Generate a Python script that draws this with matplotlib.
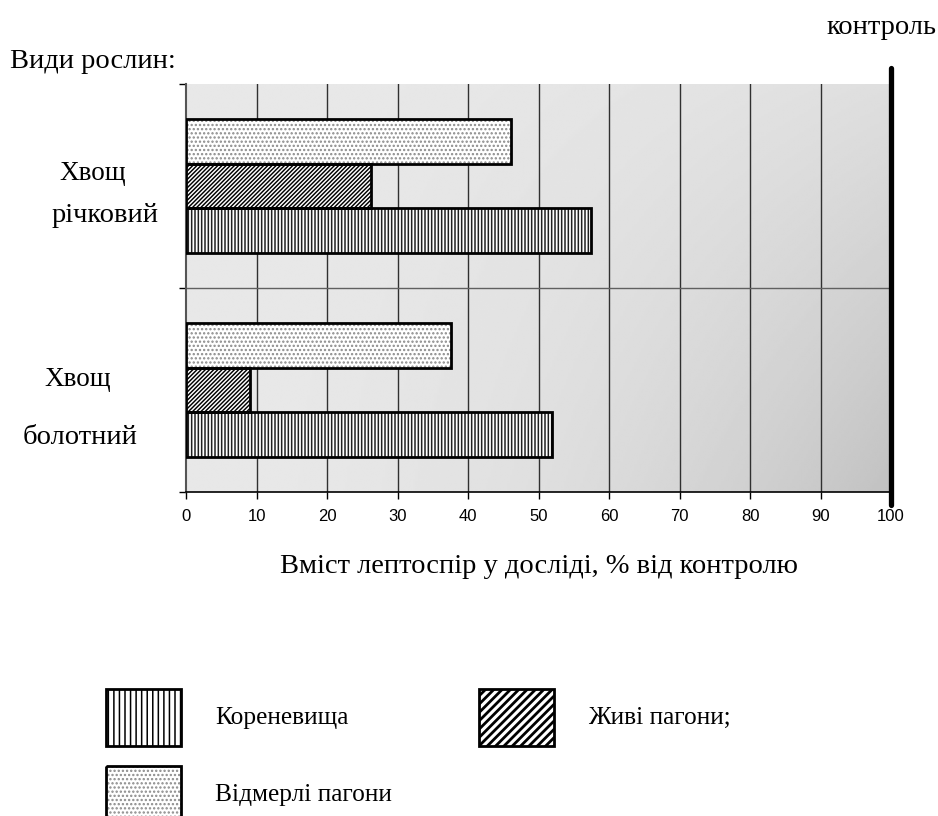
import numpy as np
import matplotlib
matplotlib.use("Agg")
import matplotlib.pyplot as plt
from matplotlib.patches import Rectangle

# вміст лептоспір, % від контролю
species = ["Хвощ\nрічковий", "Хвощ\nболотний"]
parts = ["Відмерлі пагони", "Живі пагони;", "Кореневища"]
values = {
    "Відмерлі пагони": [46.1, 37.6],
    "Живі пагони;": [26.3, 9.1],
    "Кореневища": [57.4, 51.9],
}
hatches = {"Відмерлі пагони": "....", "Живі пагони;": "////////", "Кореневища": "|||||"}
hatch_colors = {"Відмерлі пагони": "#8a8a8a", "Живі пагони;": "black", "Кореневища": "#202020"}
xticks = list(range(0, 101, 10))
control = 100

serif = "Liberation Serif"
sans = "Liberation Sans"
plt.rcParams["hatch.linewidth"] = 1.1


def thick_hatch(patch, lw):
    if hasattr(patch, "set_hatch_linewidth"):
        patch.set_hatch_linewidth(lw)


fig = plt.figure(figsize=(9.38, 8.16), dpi=100)
ax = fig.add_axes([0.1983, 0.3971, 0.7516, 0.5])

# сірий градієнтний фон
gx, gy = np.meshgrid(np.linspace(0, 1, 300), np.linspace(0, 1, 200))
shade = 0.91 - 0.15 * (gx ** 2) * (0.25 + 0.75 * gy)
ax.imshow(shade, cmap="gray", vmin=0, vmax=1, extent=[0, 100, 2, 0],
          aspect="auto", zorder=0, interpolation="bilinear")

h = 0.22
for i, sp in enumerate(species):
    for j, p in enumerate(parts):
        y = i + 0.5 + (j - 1) * h
        v = values[p][i]
        bars = ax.barh(y, v, height=h, color="white", edgecolor=hatch_colors[p],
                       hatch=hatches[p], linewidth=0, zorder=3)
        if p == "Живі пагони;":
            thick_hatch(bars[0], 1.05)
        ax.barh(y, v, height=h, fill=False, edgecolor="black",
                linewidth=2, zorder=4)

ax.set_xlim(0, 100)
ax.set_ylim(2, 0)
ax.set_xticks(xticks)
ax.set_xticklabels([str(t) for t in xticks], fontfamily=sans, fontsize=12)
ax.set_yticks([0, 1, 2])
ax.set_yticklabels([])
ax.tick_params(axis="both", direction="out", length=5, width=1, color="black")
ax.tick_params(axis="x", pad=7)

for t in xticks[1:-1]:
    ax.axvline(t, color="#303030", linewidth=1, zorder=1)
ax.axhline(1, color="#606060", linewidth=1, zorder=1)

for s in ["top", "right"]:
    ax.spines[s].set_visible(False)
ax.spines["left"].set_color("#555555")
ax.spines["left"].set_linewidth(1.5)
ax.spines["bottom"].set_linewidth(1.2)

# лінія контролю
ax.plot([control, control], [-0.08, 2.065], color="black", linewidth=3.8,
        solid_capstyle="round", clip_on=False, zorder=5)

ax.set_xlabel("Вміст лептоспір у досліді, % від контролю",
              fontfamily=serif, fontsize=20.5, labelpad=22)

# підписи та легенда в піксельних координатах
ov = fig.add_axes([0, 0, 1, 1], zorder=-1)
ov.set_xlim(0, 938)
ov.set_ylim(816, 0)
ov.axis("off")

tk = dict(fontfamily=serif, fontsize=20.5, va="center")
ov.text(936, 28, "контроль", ha="right", **tk)
ov.text(10, 61, "Види рослин:", ha="left", **tk)
ov.text(93, 173, "Хвощ", ha="center", fontsize=19.5, fontfamily=serif, va="center")
ov.text(105, 216, "річковий", ha="center", **tk)
ov.text(78, 379, "Хвощ", ha="center", fontsize=19.5, fontfamily=serif, va="center")
ov.text(80, 438, "болотний", ha="center", **tk)

leg = fig.add_axes([0, 0, 1, 1])
leg.set_xlim(0, 938)
leg.set_ylim(816, 0)
leg.axis("off")
swatches = [
    ("Кореневища", 106, 689, "|||", "black", 1.1),
    ("Живі пагони;", 479, 689, "////", "black", 2.0),
    ("Відмерлі пагони", 106, 766, "....", "#8a8a8a", 1.1),
]
for label, x0, y0, hp, hc, hlw in swatches:
    sw = Rectangle((x0, y0), 75, 57, facecolor="white", edgecolor=hc,
                   hatch=hp, linewidth=0)
    thick_hatch(sw, hlw)
    leg.add_patch(sw)
    leg.add_patch(Rectangle((x0, y0), 75, 57, fill=False, edgecolor="black",
                            linewidth=2))
    leg.text(x0 + 109, y0 + 29, label, ha="left", fontfamily=serif,
             fontsize=18.3, va="center")

fig.savefig("out.png", dpi=100)
